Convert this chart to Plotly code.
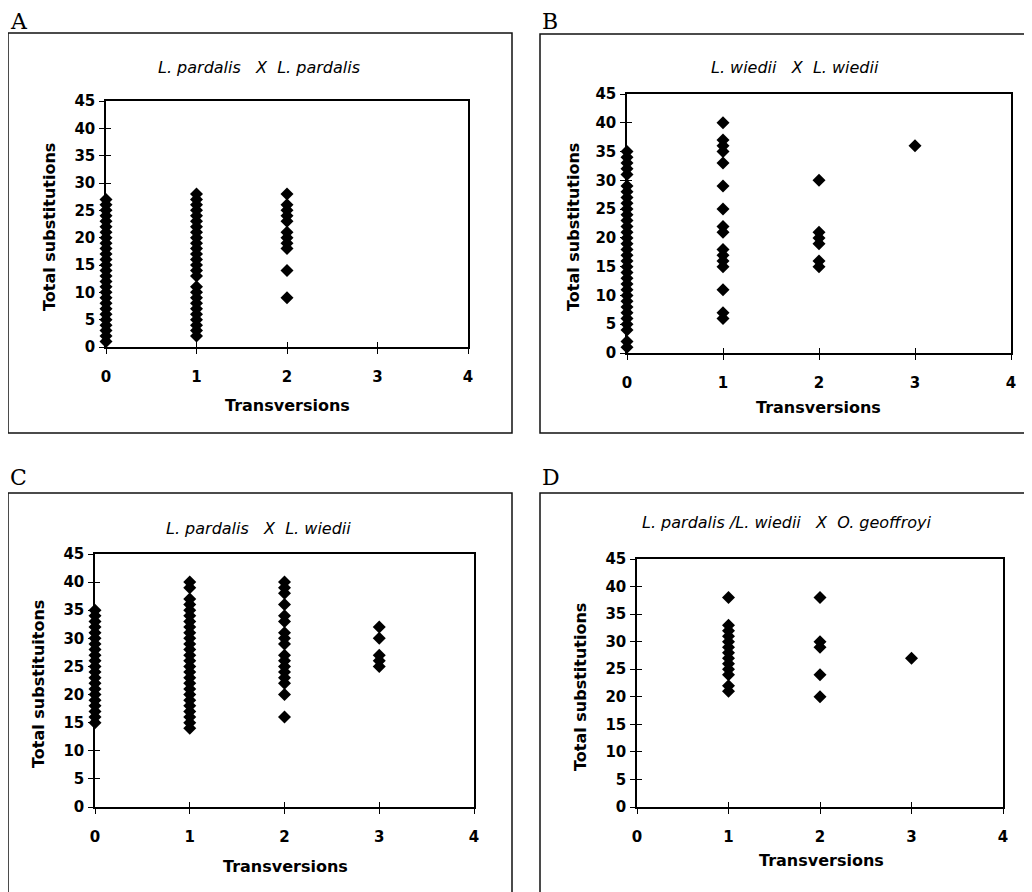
import plotly.graph_objects as go

# ---------------- data ----------------
x_values = [0, 1, 2, 3, 4]
y_ticks = [0, 5, 10, 15, 20, 25, 30, 35, 40, 45]

# Panel A: L. pardalis X L. pardalis
a_t0 = [1, 2, 3, 4, 5, 6, 7, 8, 9, 10, 11, 12, 13, 14, 15, 16, 17, 18, 19, 20, 21, 22, 23, 24, 25, 26, 27]
a_t1 = [2, 3, 4, 5, 6, 7, 8, 9, 10, 11, 13, 14, 15, 16, 17, 18, 19, 20, 21, 22, 23, 24, 25, 26, 27, 28]
a_t2 = [28, 26, 25, 24, 23, 21, 20, 19, 18, 14, 9]

# Panel B: L. wiedii X L. wiedii
b_t0 = [1, 2, 4, 5, 6, 7, 8, 9, 10, 11, 12, 13, 14, 15, 16, 17, 18, 19, 20, 21, 22, 23, 24, 25, 26, 27, 28, 29, 31, 32, 33, 34, 35]
b_t1 = [40, 37, 36, 35, 33, 29, 25, 22, 21, 18, 17, 16, 15, 11, 7, 6]
b_t2 = [30, 21, 20, 19, 16, 15]
b_t3 = [36]

# Panel C: L. pardalis X L. wiedii
c_t0 = [15, 16, 17, 18, 19, 20, 21, 22, 23, 24, 25, 26, 27, 28, 29, 30, 31, 32, 33, 34, 35]
c_t1 = [14, 15, 16, 17, 18, 19, 20, 21, 22, 23, 24, 25, 26, 27, 28, 29, 30, 31, 32, 33, 34, 35, 36, 37, 39, 40]
c_t2 = [40, 39, 38, 36, 34, 33, 31, 30, 29, 27, 26, 25, 24, 23, 22, 20, 16]
c_t3 = [32, 30, 27, 26, 25]

# Panel D: L. pardalis/L. wiedii X O. geoffroyi
d_t1 = [38, 33, 32, 31, 30, 29, 28, 27, 26, 25, 24, 22, 21]
d_t2 = [38, 30, 29, 24, 20]
d_t3 = [27]

panels = [
    dict(letter="A", title="<i>L. pardalis   X  L. pardalis</i>", ytitle="Total substitutions",
         series=[(0, a_t0), (1, a_t1), (2, a_t2)]),
    dict(letter="B", title="<i>L. wiedii   X  L. wiedii</i>", ytitle="Total substitutions",
         series=[(0, b_t0), (1, b_t1), (2, b_t2), (3, b_t3)]),
    dict(letter="C", title="<i>L. pardalis   X  L. wiedii</i>", ytitle="Total substituitons",
         series=[(0, c_t0), (1, c_t1), (2, c_t2), (3, c_t3)]),
    dict(letter="D", title="<i>L. pardalis /L. wiedii   X  O. geoffroyi</i>", ytitle="Total substitutions",
         series=[(1, d_t1), (2, d_t2), (3, d_t3)]),
]

# ---------------- layout geometry (window pixels) ----------------
W, H = 1032, 892
OFF = 8  # page body margin in the browser
plot_px = [  # x0, x1, y_top, y_bottom
    (106, 468, 101, 347),
    (627, 1011, 94, 353),
    (95, 474, 554, 807),
    (637, 1003, 559, 807),
]
title_px = [(259, 68), (795, 68), (258, 528), (786, 522)]
xtitle_px = [(287, 405), (818, 407), (285, 866), (821, 860)]
ytitle_px = [(49, 227), (573, 227), (38, 684), (580, 687)]
letter_px = [(9, 8), (541, 8), (9, 464), (541, 464)]  # top of letter box
boxes_px = [(8, 33, 512, 433), (540, 34, 1050, 433), (8, 493, 512, 910), (540, 493, 1050, 910)]


def px(x):
    return (x - OFF) / W


def py(y):
    return 1 - (y - OFF) / H


fig = go.Figure()
FONT = "DejaVu Sans, Arial, sans-serif"
annotations = []
shapes = []

for i, p in enumerate(panels):
    n = i + 1
    xa = "x" if n == 1 else f"x{n}"
    ya = "y" if n == 1 else f"y{n}"
    xs, ys = [], []
    for xv, vals in p["series"]:
        xs += [xv] * len(vals)
        ys += vals
    fig.add_trace(go.Scatter(
        x=xs, y=ys, mode="markers", xaxis=xa, yaxis=ya, cliponaxis=False,
        marker=dict(symbol="diamond", size=10, color="black"), showlegend=False,
        hoverinfo="x+y"))
    # overlay axes used for the inward half of the crossing tick marks
    ox, oy = f"x{n + 4}", f"y{n + 4}"
    fig.add_trace(go.Scatter(x=[None], y=[None], xaxis=ox, yaxis=oy, showlegend=False,
                             hoverinfo="skip"))

    x0, x1, yt, yb = plot_px[i]
    common = dict(showgrid=False, zeroline=False, showline=True, linecolor="black",
                  linewidth=1.5, mirror=True, ticks="outside", ticklen=5, tickwidth=1,
                  tickcolor="black", layer="below traces", automargin=False,
                  tickfont=dict(family=FONT, size=15, color="black", weight="bold"))
    fig.layout[f"xaxis{n}"] = dict(common, domain=[px(x0), px(x1)], anchor=ya, range=[0, 4],
                                   tickvals=x_values, ticklabelstandoff=10)
    fig.layout[f"yaxis{n}"] = dict(common, domain=[py(yb), py(yt)], anchor=xa, range=[0, 45],
                                   tickvals=y_ticks, ticklabelstandoff=1)
    inner = dict(showgrid=False, zeroline=False, showline=False, ticks="inside", ticklen=5,
                 tickwidth=1, tickcolor="black", showticklabels=False, automargin=False)
    fig.layout[f"xaxis{n + 4}"] = dict(inner, overlaying=xa, anchor=oy, range=[0, 4],
                                       tickvals=x_values)
    fig.layout[f"yaxis{n + 4}"] = dict(inner, overlaying=ya, anchor=ox, range=[0, 45],
                                       tickvals=y_ticks)

    tx, ty = title_px[i]
    annotations.append(dict(text=p["title"], x=px(tx), y=py(ty), xref="paper", yref="paper",
                            showarrow=False, xanchor="center", yanchor="middle",
                            font=dict(family=FONT, size=16, color="black")))
    tx, ty = xtitle_px[i]
    annotations.append(dict(text="Transversions", x=px(tx), y=py(ty), xref="paper", yref="paper",
                            showarrow=False, xanchor="center", yanchor="middle",
                            font=dict(family=FONT, size=16, color="black", weight="bold")))
    tx, ty = ytitle_px[i]
    annotations.append(dict(text=p["ytitle"], x=px(tx), y=py(ty), xref="paper", yref="paper",
                            showarrow=False, xanchor="center", yanchor="middle", textangle=-90,
                            font=dict(family=FONT, size=16, color="black", weight="bold")))
    tx, ty = letter_px[i]
    annotations.append(dict(text=p["letter"], x=px(tx), y=py(ty), xref="paper", yref="paper",
                            showarrow=False, xanchor="left", yanchor="top", borderpad=0,
                            font=dict(family="DejaVu Serif, Liberation Serif, serif", size=22,
                                      color="black")))
    bx0, by0, bx1, by1 = boxes_px[i]
    shapes.append(dict(type="rect", xref="paper", yref="paper", x0=px(bx0), x1=px(bx1),
                       y0=py(by1), y1=py(by0), line=dict(color="#111111", width=1.5)))

fig.update_layout(width=W, height=H, margin=dict(l=0, r=0, t=0, b=0, autoexpand=False),
                  paper_bgcolor="white", plot_bgcolor="white",
                  annotations=annotations, shapes=shapes, showlegend=False)

fig.write_html("out.html")
